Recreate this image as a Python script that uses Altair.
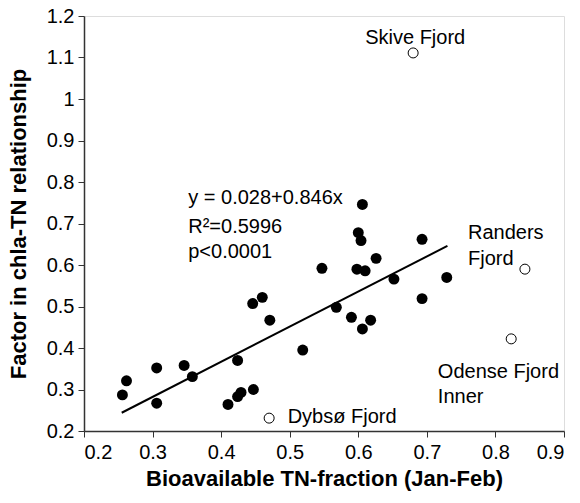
import altair as alt
import pandas as pd

# Filled points (fjords in regression)
fx = [0.256, 0.262, 0.306, 0.306, 0.346, 0.358, 0.410, 0.424, 0.429, 0.447,
      0.424, 0.446, 0.460, 0.471, 0.519, 0.547, 0.568, 0.590, 0.598, 0.600,
      0.604, 0.606, 0.606, 0.610, 0.618, 0.626, 0.652, 0.693, 0.693, 0.729]
fy = [0.287, 0.321, 0.352, 0.267, 0.358, 0.331, 0.264, 0.283, 0.293, 0.300,
      0.370, 0.507, 0.522, 0.467, 0.395, 0.592, 0.498, 0.474, 0.590, 0.678,
      0.659, 0.746, 0.446, 0.586, 0.467, 0.616, 0.566, 0.662, 0.519, 0.570]

# Open points (outliers)
ox = [0.680, 0.843, 0.823, 0.470]
oy = [1.111, 0.590, 0.422, 0.231]

# Regression line end points
lx = [0.255, 0.730]
ly = [0.244, 0.646]

# Annotations
lab_text = ["Skive Fjord", "Randers", "Fjord", "Odense Fjord", "Inner", "Dybsø Fjord",
            "y = 0.028+0.846x", "R²=0.5996", "p<0.0001"]
lab_x = [0.683, 0.760, 0.760, 0.716, 0.716, 0.497, 0.352, 0.352, 0.352]
lab_y = [1.147, 0.677, 0.614, 0.342, 0.282, 0.234, 0.761, 0.692, 0.631]
lab_align = ["center", "left", "left", "left", "left", "left", "left", "left", "left"]

x_ticks = [0.2, 0.25, 0.3, 0.35, 0.4, 0.45, 0.5, 0.55, 0.6, 0.65, 0.7, 0.75, 0.8, 0.85, 0.9]
y_ticks = [0.2, 0.3, 0.4, 0.5, 0.6, 0.7, 0.8, 0.9, 1.0, 1.1, 1.2]

FONT = "Liberation Sans"

filled = pd.DataFrame({"x": fx, "y": fy})
opened = pd.DataFrame({"x": ox, "y": oy})
line = pd.DataFrame({"x": lx, "y": ly})
labels = pd.DataFrame({"x": lab_x, "y": lab_y, "t": lab_text, "a": lab_align})

xscale = alt.Scale(domain=[0.2, 0.9], nice=False, zero=False)
yscale = alt.Scale(domain=[0.2, 1.2], nice=False, zero=False)

xenc = alt.X("x:Q", scale=xscale, axis=alt.Axis(
    title="Bioavailable TN-fraction (Jan-Feb)", values=x_ticks,
    labelExpr="abs(datum.value*10 - round(datum.value*10)) < 0.01 ? format(datum.value, '.1f') : ''",
    grid=False, tickSize=6, labelPadding=5, titlePadding=6,
    labelFontSize=20, titleFontSize=22, titleFontWeight="bold",
    labelFont=FONT, titleFont=FONT, domainColor="#333", tickColor="#333",
    labelColor="black", titleColor="black", domainWidth=1.5))
yenc = alt.Y("y:Q", scale=yscale, axis=alt.Axis(
    title="Factor in chla-TN relationship", values=y_ticks, format=".1~f",
    grid=False, tickSize=6, labelPadding=4, titlePadding=16,
    labelFontSize=20, titleFontSize=22, titleFontWeight="bold",
    labelFont=FONT, titleFont=FONT, domainColor="#333", tickColor="#333",
    labelColor="black", titleColor="black", domainWidth=1.5))

pts = alt.Chart(filled).mark_circle(size=120, color="black", opacity=1).encode(x=xenc, y=yenc)
opn = alt.Chart(opened).mark_point(shape="circle", size=100, filled=False,
                                   color="black", strokeWidth=1, opacity=1).encode(x="x:Q", y="y:Q")
reg = alt.Chart(line).mark_line(color="black", strokeWidth=2).encode(x="x:Q", y="y:Q")

txt_left = alt.Chart(labels[labels.a == "left"]).mark_text(
    align="left", baseline="middle", fontSize=20, font=FONT, color="black"
).encode(x="x:Q", y="y:Q", text="t:N")
txt_center = alt.Chart(labels[labels.a == "center"]).mark_text(
    align="center", baseline="middle", fontSize=20, font=FONT, color="black"
).encode(x="x:Q", y="y:Q", text="t:N")

chart = alt.layer(reg, pts, opn, txt_left, txt_center).properties(
    width=480, height=415, autosize="none",
    padding={"left": 84, "top": 16, "right": 16, "bottom": 72}
).configure_view(stroke="black", strokeWidth=1).configure(background="white")

chart.save("out.html", embed_options={"renderer": "svg", "actions": False})
